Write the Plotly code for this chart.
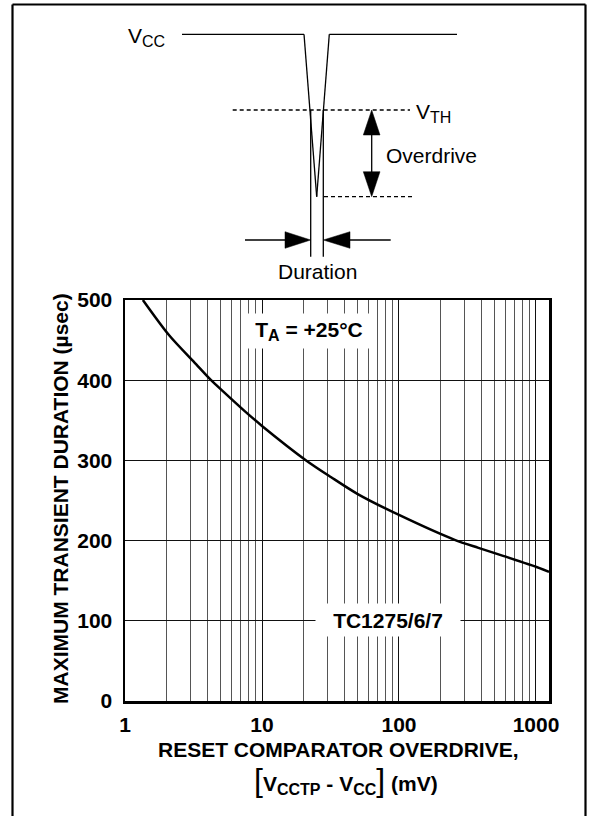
import plotly.graph_objects as go

# ---- data ----
overdrive_mv = [1.35, 2.1, 3.3, 4.25, 5.2, 7.3, 10, 21, 32, 50, 100, 255, 380, 575, 1050, 1245]
duration_us = [500, 456, 420, 400, 386, 363, 343, 300, 279, 258, 232, 201, 191, 181, 166, 161]
y_ticks = [0, 100, 200, 300, 400, 500]
x_ticks = [1, 10, 100, 1000]
x_tick_text = ["1", "10", "100", "1000"]

FONT = "Liberation Sans, Arial, Helvetica, sans-serif"
W_FIG, H_FIG = 589, 816
PLOT_L, PLOT_R, PLOT_T, PLOT_B = 125, 549, 300, 701   # page pixels
L = PLOT_L
T = PLOT_T
PW = PLOT_R - PLOT_L
PH = PLOT_B - PLOT_T
R = W_FIG - L - PW
B = H_FIG - T - PH


def px(x):
    return (x - PLOT_L) / PW


def py(y):
    return (PLOT_B - y) / PH


fig = go.Figure()
fig.add_trace(go.Scatter(
    x=overdrive_mv, y=duration_us, mode="lines",
    line=dict(color="black", width=2.5, shape="spline", smoothing=0.8),
    hoverinfo="skip", showlegend=False))

shapes = []


def seg(x0, y0, x1, y1, width=1.3, dash="solid"):
    shapes.append(dict(type="line", xref="paper", yref="paper",
                       x0=px(x0), y0=py(y0), x1=px(x1), y1=py(y1),
                       line=dict(color="black", width=width, dash=dash)))


def tri(pts):
    d = "M " + " L ".join(f"{px(a):.5f},{py(b):.5f}" for a, b in pts) + " Z"
    shapes.append(dict(type="path", xref="paper", yref="paper", path=d,
                       fillcolor="black", line=dict(color="black", width=0.5)))


# outer frame
seg(12.5, 4.5, 585.5, 4.5, width=2.2)
seg(12.5, 4.5, 12.5, 820, width=2.2)
seg(585.5, 4.5, 585.5, 820, width=2.2)

# schematic: Vcc waveform
path = [(182, 34.3), (304, 34.3), (316.7, 196.7), (329.3, 34.3), (457, 34.3)]
for (a, b), (c, d) in zip(path[:-1], path[1:]):
    seg(a, b, c, d)
seg(310.7, 110, 310.7, 256.7)
seg(323.3, 110, 323.3, 256.7)
# thresholds
seg(232.7, 110, 410, 110, dash="4px,3px")
seg(324, 196.7, 415, 196.7, dash="4px,3px")
# overdrive arrow
seg(371.7, 130, 371.7, 177)
tri([(371.7, 110), (363.3, 135), (380, 135)])
tri([(371.7, 196.7), (363.3, 171.7), (380, 171.7)])
# duration arrows
seg(245, 240, 290, 240)
tri([(310.7, 240), (285, 231.7), (285, 248.3)])
seg(345, 240, 390.7, 240)
tri([(323.3, 240), (350, 231.7), (350, 248.3)])

ann = []


def text(x, y, s, size=21, bold=False, xanchor="center", yanchor="middle", **kw):
    s2 = f"<b>{s}</b>" if bold else s
    ann.append(dict(x=px(x), y=py(y), xref="paper", yref="paper", text=s2,
                    showarrow=False, xanchor=xanchor, yanchor=yanchor,
                    font=dict(family=FONT, size=size, color="black"), **kw))


def sub(s, size=16):
    return f"<sub><span style='font-size:{size}px'>{s}</span></sub>"


text(126, 37, "V" + sub("CC"), xanchor="left")
text(414, 113, "V" + sub("TH"), xanchor="left")
text(384, 155, "Overdrive", xanchor="left")
text(317, 271, "Duration")

text(309, 331, "T" + sub("A") + " = +25°C", bold=True, bgcolor="white", width=120, height=32)
text(388, 620, "TC1275/6/7", bold=True, bgcolor="white", width=142, height=30)

text(60, 499, "MAXIMUM TRANSIENT DURATION (µsec)", bold=True, textangle=-90)
text(338, 749, "RESET COMPARATOR OVERDRIVE,", bold=True)
text(346, 780,
     "<span style='font-size:32px;font-weight:normal'>[</span>V" + sub("CCTP") + " - V" + sub("CC") +
     "<span style='font-size:32px;font-weight:normal'>]</span> (mV)", bold=True)

fig.update_layout(
    width=W_FIG, height=H_FIG, autosize=False,
    margin=dict(l=L, r=R, t=T, b=B, pad=0),
    paper_bgcolor="white", plot_bgcolor="white",
    shapes=shapes, annotations=ann,
    font=dict(family=FONT, size=21, color="black"),
    xaxis=dict(type="log", range=[0, 3.095], tickvals=x_ticks, ticktext=x_tick_text,
               showgrid=True, gridcolor="#111", gridwidth=1,
               minor=dict(dtick="D1", showgrid=True, gridcolor="#555", gridwidth=1),
               showline=True, linecolor="black", linewidth=2.5, mirror=True,
               ticks="", tickfont=dict(family=FONT, size=21, weight="bold"),
               ticklabelstandoff=3, zeroline=False),
    yaxis=dict(range=[0, 500], tickvals=y_ticks,
               showgrid=True, gridcolor="#111", gridwidth=1,
               showline=True, linecolor="black", linewidth=2.5, mirror=True,
               ticks="", tickfont=dict(family=FONT, size=21, weight="bold"),
               ticklabelstandoff=6, zeroline=False),
)

fig.write_html("out.html",
               config={"displayModeBar": False, "staticPlot": True},
               post_script="document.body.style.margin='0px';document.body.style.overflow='hidden';")
